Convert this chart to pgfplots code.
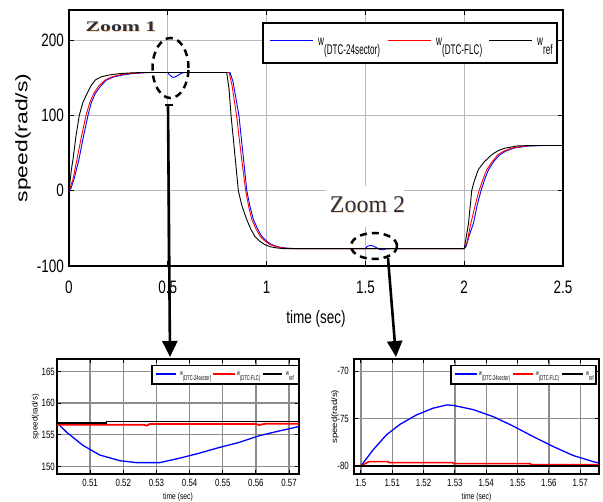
\documentclass[border=0pt]{standalone}
\usepackage{pgfplots}
\pgfplotsset{compat=1.18}
\usepackage{fontspec}
\usepackage{graphicx}
\usetikzlibrary{arrows.meta}
\setmainfont{Liberation Sans}
\newfontfamily\cond[FakeStretch=0.75]{Liberation Sans}
\newfontfamily\leg[FakeStretch=0.58]{Liberation Sans}
\newfontfamily\wide[FakeStretch=1.37]{Liberation Sans}
\newfontfamily\serif{Liberation Serif}
\definecolor{mblue}{RGB}{0,0,255}
\definecolor{mred}{RGB}{255,0,0}
\definecolor{zoomc}{RGB}{45,45,60}
\newcommand{\lentry}[3]{\leg\fontsize{#1pt}{#1pt}\selectfont w\raisebox{-#2pt}{#3}}

\pgfplotstableread{
t v
0 0
0.012 28
0.02 41
0.035 72
0.052 100
0.07 117
0.091 129
0.11 139
0.133 147
0.16 151
0.2 153.6
0.25 155.3
0.3 156.3
0.37 157
0.798 157
0.81 135
0.82 100
0.835 60
0.857 0
0.875 -20
0.899 -38
0.92 -51
0.94 -60.5
0.965 -67
0.99 -71.5
1.02 -74.5
1.05 -76
1.09 -77
2.0 -77
2.01 -62
2.022 -43
2.038 0
2.05 12
2.071 27.8
2.1 38
2.139 47.7
2.17 53
2.206 56.5
2.27 59.5
2.35 60
2.5 60
}\refdata

\pgfplotstableread{
t v
0 0
0.02 15
0.04 41
0.06 68
0.086 100
0.105 117
0.125 129
0.15 139
0.183 147
0.215 151
0.25 153.6
0.3 155.5
0.35 156.5
0.4 157
0.81 157
0.825 140
0.848 100
0.87 50
0.894 0
0.91 -22
0.925 -38
0.945 -50
0.967 -60.5
0.99 -66.5
1.017 -71.5
1.05 -74.5
1.09 -76.3
1.13 -77
2.0 -77
2.015 -68
2.034 -43
2.055 -20
2.075 0
2.095 15
2.114 27.8
2.14 38
2.17 47.7
2.2 52.5
2.24 56.5
2.31 59.5
2.38 60
2.5 60
}\flcdata

\pgfplotstableread{
t v
0 0
0.01 3
0.025 15
0.05 41
0.07 68
0.096 100
0.113 117
0.133 129
0.16 139
0.19 147
0.225 151
0.27 153.6
0.32 155.5
0.37 156.5
0.42 157
0.5 157
0.51 153.5
0.525 150.6
0.535 150.8
0.55 153
0.565 155.4
0.575 156.5
0.59 157
0.815 157
0.83 145
0.86 100
0.88 50
0.9 0
0.915 -20
0.933 -38
0.953 -50
0.975 -60.5
1.0 -67
1.025 -71.5
1.06 -74.8
1.1 -76.2
1.15 -77
1.5 -77
1.51 -74
1.525 -72.5
1.54 -73.5
1.555 -75.5
1.57 -77.8
1.585 -78.6
1.6 -77.6
1.62 -77
2.0 -77
2.01 -74
2.025 -60
2.047 -43
2.065 -20
2.085 0
2.105 16
2.123 27.8
2.15 39
2.18 47.7
2.21 52.5
2.25 56.5
2.32 59.3
2.4 60
2.5 60
}\sectdata

\begin{document}
\begin{tikzpicture}
% ---------------- main axis ----------------
\begin{axis}[
  at={(69pt,-10pt)}, anchor=north west,
  width=494pt, height=256pt, scale only axis,
  xmin=0, xmax=2.5, ymin=-100, ymax=240,
  xtick={0,0.5,1,1.5,2,2.5}, ytick={-100,0,100,200},
  grid=major, major grid style={gray!55, line width=0.8pt},
  axis line style={line width=1.2pt},
  tick align=inside, major tick length=5pt, tick style={black, line width=0.8pt},
  /pgf/number format/assume math mode=true,
  xticklabel style={font=\cond\fontsize{18}{18}\selectfont, inner sep=0pt, yshift=-15pt},
  yticklabel style={font=\cond\fontsize{18}{18}\selectfont, inner sep=0pt, xshift=-5pt},
  xlabel={time (sec)}, ylabel={speed(rad/s)},
  xlabel style={font=\cond\fontsize{18}{18}\selectfont, at={(axis description cs:0.5,0)}, anchor=center, yshift=-52.5pt},
  ylabel style={font=\wide\fontsize{16.7}{16.7}\selectfont, at={(axis description cs:-0.0931,0.5)}, anchor=center},
]
\addplot[draw=mblue, line width=0.9pt] table[x=t,y=v] {\sectdata};
\addplot[draw=mred, line width=0.9pt] table[x=t,y=v] {\flcdata};
\addplot[draw=black, line width=0.9pt] table[x=t,y=v] {\refdata};
\end{axis}
% main legend
\draw[line width=1.4pt, fill=white] (263pt,-23pt) rectangle (557pt,-63pt);
\draw[mblue, line width=1pt] (270pt,-41pt) -- (313pt,-41pt);
\node[anchor=base west, inner sep=0pt] at (318pt,-46pt) {\lentry{14}{8.5}{(DTC-24sector)}};
\draw[mred, line width=1pt] (388pt,-41pt) -- (431pt,-41pt);
\node[anchor=base west, inner sep=0pt] at (436pt,-46pt) {\lentry{14}{8.5}{(DTC-FLC)}};
\draw[black, line width=1pt] (489pt,-41pt) -- (532pt,-41pt);
\node[anchor=base west, inner sep=0pt] at (537pt,-46pt) {\lentry{14}{8.5}{ref}};

% ---------------- inset 1 ----------------
\begin{axis}[
  at={(57pt,-359.5pt)}, anchor=north west,
  width=242pt, height=114.5pt, scale only axis,
  xmin=0.5, xmax=0.573, ymin=148.8, ymax=166.9,
  xtick={0.51,0.52,0.53,0.54,0.55,0.56,0.57}, ytick={150,155,160,165},
  grid=major, major grid style={gray!90, line width=1.3pt},
  axis line style={line width=2pt},
  tick align=inside, major tick length=4pt, tick style={black, line width=1pt},
  /pgf/number format/assume math mode=true,
  xticklabel style={font=\cond\fontsize{10.5}{10.5}\selectfont, inner sep=0pt, yshift=-5pt},
  yticklabel style={font=\cond\fontsize{10.5}{10.5}\selectfont, inner sep=0pt, xshift=-2pt},
  xlabel={time (sec)}, ylabel={speed(rad/s)},
  xlabel style={font=\cond\fontsize{9}{9}\selectfont, at={(axis description cs:0.5,0)}, anchor=center, yshift=-23.5pt},
  ylabel style={font=\fontsize{8}{8}\selectfont, at={(axis description cs:-0.0888,0.5)}, anchor=center},
]
\addplot[draw=mblue, line width=1.3pt] table {
0.5 156.9
0.5029 155.4
0.5079 153.3
0.5129 151.8
0.519 150.9
0.524 150.6
0.531 150.6
0.537 151.3
0.543 152.1
0.549 153.0
0.555 153.8
0.561 154.85
0.567 155.6
0.573 156.3
};
\addplot[draw=mred, line width=1.8pt] table {
0.5 156.6
0.526 156.6
0.527 156.45
0.528 156.7
0.56 156.7
0.561 156.55
0.563 156.75
0.573 156.75
};
\addplot[draw=black, line width=1.3pt] table {
0.5 156.85
0.515 156.85
0.515 157.05
0.573 157.05
};
\end{axis}
% inset 1 legend
\draw[line width=1.3pt, fill=white] (152pt,-365.5pt) rectangle (299pt,-384pt);
\draw[mblue, line width=1.3pt] (156pt,-374pt) -- (176pt,-374pt);
\node[anchor=base west, inner sep=0pt] at (180pt,-376pt) {\lentry{7}{4.2}{(DTC-24sector)}};
\draw[mred, line width=1.3pt] (213pt,-374pt) -- (235pt,-374pt);
\node[anchor=base west, inner sep=0pt] at (237pt,-376pt) {\lentry{7}{4.2}{(DTC-FLC)}};
\draw[black, line width=1.3pt] (263pt,-374pt) -- (282pt,-374pt);
\node[anchor=base west, inner sep=0pt] at (286pt,-376pt) {\lentry{7}{4.2}{ref}};

% ---------------- inset 2 ----------------
\begin{axis}[
  at={(354pt,-359.5pt)}, anchor=north west,
  width=245pt, height=114.5pt, scale only axis,
  xmin=1.4978, xmax=1.576, ymin=-80.85, ymax=-68.75,
  xtick={1.5,1.51,1.52,1.53,1.54,1.55,1.56,1.57}, ytick={-80,-75,-70},
  grid=major, major grid style={gray!90, line width=1.3pt},
  axis line style={line width=2pt},
  tick align=inside, major tick length=4pt, tick style={black, line width=1pt},
  /pgf/number format/assume math mode=true,
  xticklabel style={font=\cond\fontsize{10.5}{10.5}\selectfont, inner sep=0pt, yshift=-5pt},
  yticklabel style={font=\cond\fontsize{10.5}{10.5}\selectfont, inner sep=0pt, xshift=-5pt},
  xlabel={time (sec)}, ylabel={\scalebox{1.2}[1]{speed(rad/s)}},
  xlabel style={font=\cond\fontsize{9}{9}\selectfont, at={(axis description cs:0.5,0)}, anchor=center, yshift=-23.5pt},
  ylabel style={font=\fontsize{8}{8}\selectfont, at={(axis description cs:-0.0776,0.5)}, anchor=center},
]
\addplot[draw=mblue, line width=1.3pt] table {
1.4978 -80
1.5 -80
1.5039 -78.3
1.5082 -76.7
1.5125 -75.6
1.5178 -74.6
1.523 -73.9
1.5274 -73.55
1.5295 -73.6
1.5359 -74.05
1.5423 -74.8
1.5487 -75.8
1.555 -76.9
1.5614 -77.95
1.5678 -78.9
1.5742 -79.55
1.576 -79.7
};
\addplot[draw=mred, line width=1.5pt] table {
1.4978 -80
1.5 -80
1.5025 -79.55
1.5087 -79.55
1.509 -79.65
1.5293 -79.65
1.5296 -79.75
1.554 -79.75
1.5543 -79.85
1.576 -79.85
};
\addplot[draw=black, line width=1.3pt] table {
1.4978 -80
1.576 -80
};
\end{axis}
% inset 2 legend
\draw[line width=1.3pt, fill=white] (451pt,-365.5pt) rectangle (596pt,-384pt);
\draw[mblue, line width=1.3pt] (455pt,-374pt) -- (477pt,-374pt);
\node[anchor=base west, inner sep=0pt] at (479pt,-376pt) {\lentry{7}{4.2}{(DTC-24sector)}};
\draw[mred, line width=1.3pt] (513pt,-374pt) -- (533pt,-374pt);
\node[anchor=base west, inner sep=0pt] at (536pt,-376pt) {\lentry{7}{4.2}{(DTC-FLC)}};
\draw[black, line width=1.3pt] (562pt,-374pt) -- (583pt,-374pt);
\node[anchor=base west, inner sep=0pt] at (586pt,-376pt) {\lentry{7}{4.2}{ref}};

% ---------------- annotations ----------------
\draw[line width=2.5pt, dash pattern=on 7pt off 5pt] (170.5pt,-68pt) ellipse [x radius=18pt, y radius=30pt];
\draw[line width=2.5pt, dash pattern=on 7pt off 5pt] (374pt,-246pt) ellipse [x radius=23pt, y radius=13pt];
\draw[line width=2.5pt] (165pt,-105pt) -- (173pt,-105pt);
\draw[line width=2.6pt, -{Triangle[length=16pt,width=15pt]}] (168pt,-105pt) -- (170pt,-357pt);
\draw[line width=2.6pt, -{Triangle[length=16pt,width=15pt]}] (388pt,-258pt) -- (396pt,-357pt);

\node[anchor=base, inner sep=0pt, text=orange!30] at (122pt,-33pt) {\scalebox{1.5}[1]{\serif\bfseries\fontsize{14.5}{14.5}\selectfont Zoom 1}};
\node[anchor=base, inner sep=0pt, text=zoomc] at (121pt,-32pt) {\scalebox{1.5}[1]{\serif\bfseries\fontsize{14.5}{14.5}\selectfont Zoom 1}};
\fill[white] (326pt,-186pt) rectangle (404pt,-227pt);
\node[anchor=base, inner sep=0pt, text=orange!30] at (368.3pt,-213.3pt) {\serif\fontsize{24}{24}\selectfont Zoom 2};
\node[anchor=base, inner sep=0pt, text=zoomc] at (367.5pt,-212.5pt) {\serif\fontsize{24}{24}\selectfont Zoom 2};

\pgfresetboundingbox
\path (0pt,0pt) rectangle (603pt,-502pt);
\end{tikzpicture}
\end{document}
